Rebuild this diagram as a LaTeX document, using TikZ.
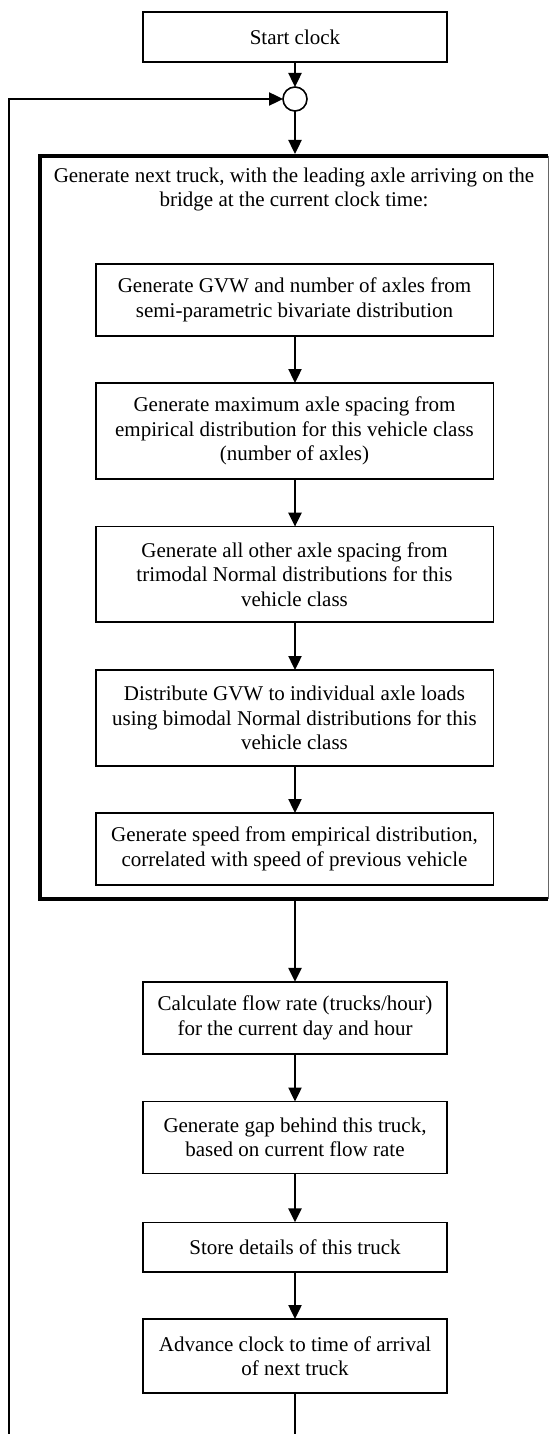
\documentclass[tikz,border=0pt]{standalone}
\usepackage{fontspec}
\setmainfont{Liberation Serif}
\usetikzlibrary{arrows.meta}
\begin{document}
\begin{tikzpicture}[x=1pt,y=1pt,
  txt/.style={font=\fontsize{21}{24.5}\selectfont, align=center, inner sep=0pt, outer sep=0pt},
  box/.style={txt, draw, line width=1.6pt, rectangle},
  arr/.style={line width=2.4pt, -{Triangle[width=13pt,length=14pt]}},
  loopline/.style={line width=2.4pt}]
\useasboundingbox (0,0) rectangle (550,-1434);
% top
\node[box, minimum width=304pt, minimum height=50pt] (start) at (295,-37) {Start clock};
\node[draw, circle, line width=1.6pt, minimum size=24pt, inner sep=0pt, outer sep=0pt] (circ) at (295,-99) {};
% big container
\node[minimum width=508.5pt, minimum height=743pt, inner sep=0pt, outer sep=0pt] (big) at (293.75,-527.5) {};
\draw[line width=4pt] (big.north east) -- (big.north west) -- (big.south west) -- (big.south east);
\draw[line width=1pt, black!60] (big.north east) -- (big.south east);
\node[txt] (title) at (294,-189.5) {Generate next truck, with the leading axle arriving on the\\bridge at the current clock time:};
% inner boxes
\node[box, minimum width=397.6pt, minimum height=72pt] (b1) at (294.5,-300) {Generate GVW and number of axles from\\semi-parametric bivariate distribution};
\node[box, minimum width=397.6pt, minimum height=96pt] (b2) at (294.5,-431) {Generate maximum axle spacing from\\empirical distribution for this vehicle class\\(number of axles)};
\node[box, minimum width=397.6pt, minimum height=95.3pt] (b3) at (294.5,-574.3) {Generate all other axle spacing from\\trimodal Normal distributions for this\\vehicle class};
\node[box, minimum width=397.6pt, minimum height=96pt] (b4) at (294.5,-718) {Distribute GVW to individual axle loads\\using bimodal Normal distributions for this\\vehicle class};
\node[box, minimum width=397.6pt, minimum height=72pt] (b5) at (294.5,-849) {Generate speed from empirical distribution,\\correlated with speed of previous vehicle};
% lower boxes
\node[box, minimum width=304pt, minimum height=72pt] (calc) at (295,-1017.8) {Calculate flow rate (trucks/hour)\\for the current day and hour};
\node[box, minimum width=304pt, minimum height=72pt] (gap) at (295,-1137.5) {Generate gap behind this truck,\\based on current flow rate};
\node[box, minimum width=304pt, minimum height=49.4pt] (store) at (295,-1247) {Store details of this truck};
\node[box, minimum width=304pt, minimum height=74pt] (adv) at (295,-1356) {Advance clock to time of arrival\\of next truck};
\coordinate (br) at (295,-1445);
\coordinate (bl) at (8.8,-1445);
% connectors
\draw[arr] (start.south) -- (circ.north);
\draw[arr, shorten >=2pt] (circ.south) -- (circ.south |- big.north);
\draw[arr] (b1.south -| circ) -- (b2.north -| circ);
\draw[arr] (b2.south -| circ) -- (b3.north -| circ);
\draw[arr] (b3.south -| circ) -- (b4.north -| circ);
\draw[arr] (b4.south -| circ) -- (b5.north -| circ);
\draw[arr] (big.south -| circ) ++(0,-2) -- (calc.north);
\draw[arr] (calc.south) -- (gap.north);
\draw[arr] (gap.south) -- (store.north);
\draw[arr] (store.south) -- (adv.north);
\draw[loopline] (adv.south) -- (br);
\draw[arr] (bl) |- (circ.west);
\end{tikzpicture}
\end{document}
